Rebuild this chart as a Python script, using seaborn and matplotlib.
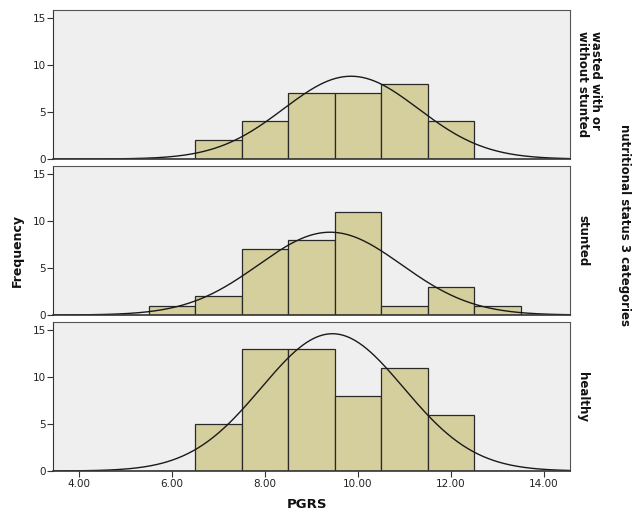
import numpy as np
import pandas as pd
import matplotlib
matplotlib.use("Agg")
import matplotlib.pyplot as plt
import seaborn as sns

# ---- data ----
groups = ["wasted with or\nwithout stunted", "stunted", "healthy"]
bin_edges = [5.5, 6.5, 7.5, 8.5, 9.5, 10.5, 11.5, 12.5, 13.5]
counts_wasted = [0, 2, 4, 7, 7, 8, 4, 0]
counts_stunted = [1, 2, 7, 8, 11, 1, 3, 1]
counts_healthy = [0, 5, 13, 13, 8, 11, 6, 0]
curve_means = [9.85, 9.40, 9.45]
curve_sds = [1.45, 1.54, 1.53]
x_ticks = [4.0, 6.0, 8.0, 10.0, 12.0, 14.0]
y_ticks = [0, 5, 10, 15]

all_counts = [counts_wasted, counts_stunted, counts_healthy]

sns.set_style("white")
plt.rcParams['font.family'] = ['DejaVu Sans']

fig = plt.figure(figsize=(6.36, 5.20), dpi=100)
fig.patch.set_facecolor("white")

left, width = 53 / 636, 517 / 636
tops = [10, 166, 322]
h = 149

centers = [(bin_edges[i] + bin_edges[i + 1]) / 2 for i in range(len(bin_edges) - 1)]
xs = np.linspace(3.44, 14.56, 400)

for i, (g, counts) in enumerate(zip(groups, all_counts)):
    ax = fig.add_axes([left, 1 - (tops[i] + h) / 520, width, h / 520])
    ax.set_facecolor("#efefef")
    df = pd.DataFrame({"PGRS": centers, "n": counts})
    sns.histplot(data=df, x="PGRS", weights="n", bins=bin_edges, ax=ax,
                 color="#d4cf9c", edgecolor="#2a2a2a", linewidth=0.9, alpha=1)
    n_total = sum(counts)
    ys = n_total * 1.0 / (curve_sds[i] * np.sqrt(2 * np.pi)) * np.exp(-0.5 * ((xs - curve_means[i]) / curve_sds[i]) ** 2)
    sns.lineplot(x=xs, y=ys, ax=ax, color="#1a1a1a", linewidth=1.0)
    ax.set_xlim(3.44, 14.56)
    ax.set_ylim(0, 15.85)
    ax.set_yticks(y_ticks)
    ax.set_yticklabels([str(t) for t in y_ticks], fontsize=7.5, color="#222222")
    ax.tick_params(axis="y", direction="out", length=4, width=0.8, color="#333333", pad=1, left=True)
    ax.set_xticks(x_ticks)
    if i == 2:
        ax.set_xticklabels([f"{t:.2f}" for t in x_ticks], fontsize=7.5, color="#222222")
        ax.tick_params(axis="x", direction="out", length=4, width=0.8, color="#333333", pad=2, bottom=True)
    else:
        ax.set_xticklabels([])
        ax.tick_params(axis="x", bottom=False, length=0)
    ax.set_xlabel("")
    ax.set_ylabel("")
    for s in ax.spines.values():
        s.set_visible(True)
        s.set_color("#555555")
        s.set_linewidth(0.8)
    ax.spines["left"].set_color("#333333")
    ax.spines["bottom"].set_color("#333333")
    ax.spines["bottom"].set_linewidth(1.2)
    ax.text(1.012, 0.5, g, transform=ax.transAxes, rotation=-90, ha="left", va="center",
            fontsize=8.5, fontweight="bold", color="#111111", linespacing=0.95)

fig.text(17 / 636, 1 - 250 / 520, "Frequency", rotation=90, ha="center", va="center",
         fontsize=9, fontweight="bold", color="#111111")
fig.text(307 / 636, 1 - 505 / 520, "PGRS", ha="center", va="center",
         fontsize=9.5, fontweight="bold", color="#111111")
fig.text(625 / 636, 1 - 225 / 520, "nutritional status 3 categories", rotation=-90,
         ha="center", va="center", fontsize=8.5, fontweight="bold", color="#111111")

fig.savefig("out.png", dpi=100, facecolor="white")
